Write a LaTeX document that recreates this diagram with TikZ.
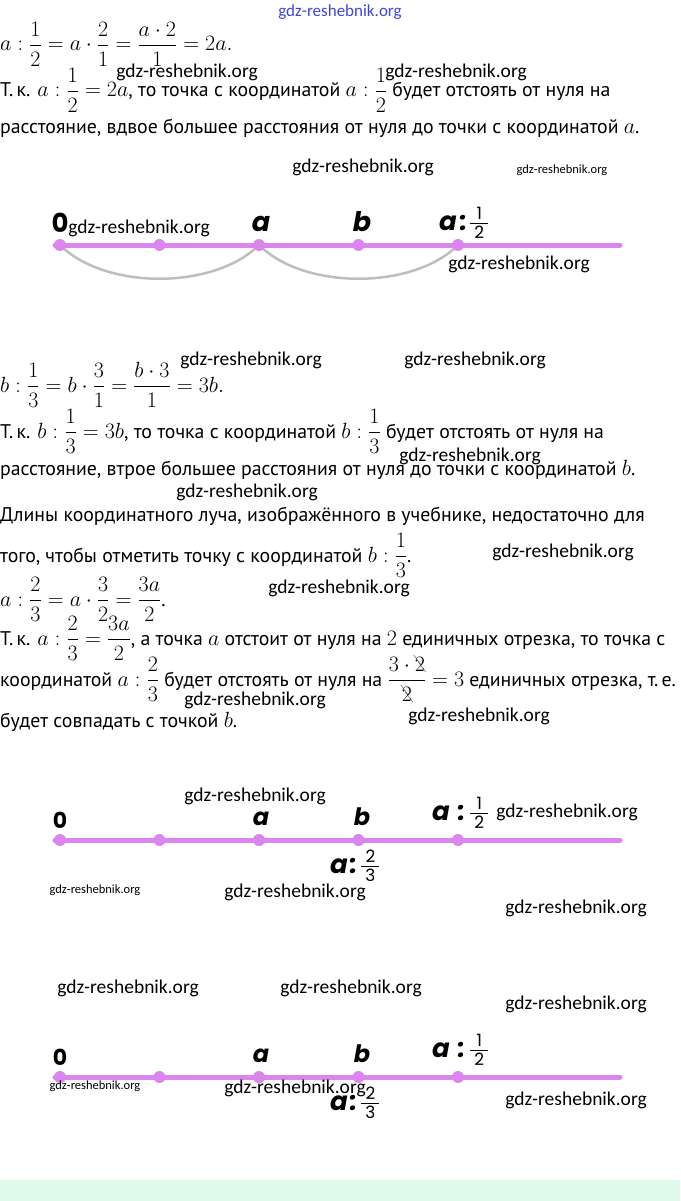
\RequirePackage{fix-cm}
\documentclass[tikz,border=0pt]{standalone}
\usepackage{amsmath}
\usepackage{cancel}
\usepackage{fontspec}
\setmainfont{PT Sans}[Scale=0.9]
\newfontfamily\labelfont{Poppins}
\newfontfamily\wmfont{Carlito}
\definecolor{raycol}{RGB}{218,134,238}
\definecolor{arcgray}{RGB}{190,190,190}
\definecolor{mint}{RGB}{222,250,232}
\definecolor{wmblue}{RGB}{60,70,220}
\newcommand\fracdigits{\labelfont\mdseries\upshape\fontsize{17}{18}\selectfont}
\newcommand\lfrac[2]{$\frac{\mbox{\hspace{4pt}\fracdigits#1\hspace{4pt}}}{\mbox{\hspace{4pt}\fracdigits#2\hspace{4pt}}}$}
\tikzset{
  txt/.style={anchor=base west, inner sep=0pt, font=\fontsize{22}{26}\selectfont},
  wm/.style={inner sep=0pt, font=\wmfont\fontsize{19.5}{22}\selectfont},
  wmsmall/.style={inner sep=0pt, font=\wmfont\fontsize{12.5}{14}\selectfont},
  lbl/.style={anchor=base, inner sep=0pt, font=\labelfont\bfseries\itshape\fontsize{#1}{#1}\selectfont},
  lbl/.default=22,
  rayline/.style={raycol, line width=5pt},
  arcline/.style={arcgray, line width=2.5pt},
  dot/.style={fill=raycol}
}
\begin{document}
\begin{tikzpicture}[x=1pt,y=-1pt,line cap=round,line join=round]
\useasboundingbox (0,0) rectangle (680,1201);
\fill[mint] (0,1180) rectangle (680,1201);
% первая часть
\path
  (0,51) node[txt] (f1) {$a:\dfrac{1}{2}=a\cdot\dfrac{2}{1}=\dfrac{a\cdot 2}{1}=2a.$}
  (0,97) node[txt] (f2) {Т.\,к. $a:\dfrac{1}{2}=2a$, то точка с координатой $a:\dfrac{1}{2}$ будет отстоять от нуля на}
  (0,134) node[txt] (f3) {расстояние, вдвое большее расстояния от нуля до точки с координатой $a$.}
;
% луч 1
\def\ya{245}
\draw[rayline] (55,\ya) -- (620,\ya);
\foreach \i in {0,...,4} \coordinate (r1p\i) at (60+99.5*\i,\ya);
\draw[arcline] (r1p0) .. controls +(45,45) and +(-45,45) .. (r1p2);
\draw[arcline] (r1p2) .. controls +(45,45) and +(-45,45) .. (r1p4);
\foreach \i in {0,...,4} \fill[dot] (r1p\i) circle (6pt);
\path
  (60,232) node[lbl,font=\labelfont\bfseries\upshape\fontsize{26}{26}\selectfont] (r1z) {0}
  (261,231) node[lbl=27] (r1a) {a}
  (362,231) node[lbl=27] (r1b) {b}
  (439,230) node[lbl=26,anchor=base west] (r1h) {a\hspace{3pt}:\hspace{2pt}\lfrac{1}{2}}
;
% вторая часть
\path
  (0,392) node[txt] (g1) {$b:\dfrac{1}{3}=b\cdot\dfrac{3}{1}=\dfrac{b\cdot 3}{1}=3b.$}
  (0,438) node[txt] (g2) {Т.\,к. $b:\dfrac{1}{3}=3b$, то точка с координатой $b:\dfrac{1}{3}$ будет отстоять от нуля на}
  (0,475) node[txt] (g3) {расстояние, втрое большее расстояния от нуля до точки с координатой $b$.}
  (0,521) node[txt] (g4) {Длины координатного луча, изображённого в учебнике, недостаточно для}
  (0,562) node[txt] (g5) {того, чтобы отметить точку с координатой $b:\dfrac{1}{3}$.}
  (0,606) node[txt] (g6) {$a:\dfrac{2}{3}=a\cdot\dfrac{3}{2}=\dfrac{3a}{2}$.}
  (0,645) node[txt] (g7) {Т.\,к. $a:\dfrac{2}{3}=\dfrac{3a}{2}$, а точка $a$ отстоит от нуля на $2$ единичных отрезка, то точка с}
  (0,686) node[txt] (g8) {координатой $a:\dfrac{2}{3}$ будет отстоять от нуля на $\dfrac{3\cdot\bcancel{2}}{\bcancel{2}}=3$ единичных отрезка, т.\,е.}
  (0,727) node[txt] (g9) {будет совпадать с точкой $b$.}
;
% луч 2 и луч 3
\foreach \k/\yb in {2/840,3/1077}{
  \draw[rayline] (55,\yb) -- (620,\yb);
  \foreach \i in {0,...,4} \coordinate (r\k p\i) at (60+99.5*\i,\yb);
  \foreach \i in {0,...,4} \fill[dot] (r\k p\i) circle (6pt);
  \path
    (60,\yb-12) node[lbl,font=\labelfont\bfseries\upshape\fontsize{22}{22}\selectfont] (r\k z) {0}
    (261,\yb-15) node[lbl=24] (r\k a) {a}
    (362,\yb-15) node[lbl=24] (r\k b) {b}
    (432,\yb-20) node[lbl=26,anchor=base west] (r\k h) {a\hspace{8pt}:\hspace{4pt}\lfrac{1}{2}}
    (330,\yb+33) node[lbl=26,anchor=base west] (r\k t) {a\hspace{2pt}:\hspace{3pt}\lfrac{2}{3}}
  ;
}
% водяные знаки
\node[wm,text=wmblue,font=\wmfont\fontsize{17}{18}\selectfont] (wm0) at (340,12) {gdz-reshebnik.org};
\foreach \x/\y [count=\i] in {187/72,456/72,363/167,139/228,519/264,251/360,475/360,470/456,247/492,563/552,339/588,255/700,479/716,255/796,567/812,295/892,576/908,128/988,351/988,576/1004,295/1088,576/1100}
  \node[wm] (wm\i) at (\x,\y) {gdz-reshebnik.org};
\foreach \x/\y [count=\i] in {562/170,95/890,95/1086}
  \node[wmsmall] (ws\i) at (\x,\y) {gdz-reshebnik.org};
\end{tikzpicture}
\end{document}
